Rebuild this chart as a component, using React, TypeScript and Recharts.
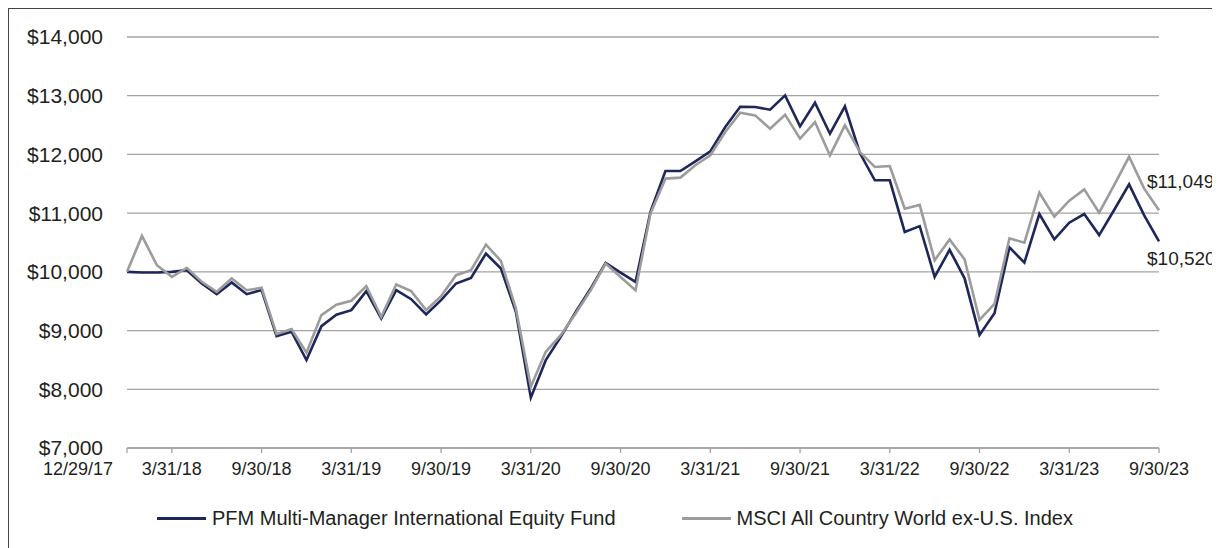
import { LineChart, Line, XAxis, YAxis, CartesianGrid, Legend, LabelList } from "recharts"

const DATES = [
  "12/29/17",
  "1/31/18", "2/28/18", "3/31/18", "4/30/18", "5/31/18", "6/30/18", "7/31/18", "8/31/18", "9/30/18", "10/31/18", "11/30/18", "12/31/18",
  "1/31/19", "2/28/19", "3/31/19", "4/30/19", "5/31/19", "6/30/19", "7/31/19", "8/31/19", "9/30/19", "10/31/19", "11/30/19", "12/31/19",
  "1/31/20", "2/29/20", "3/31/20", "4/30/20", "5/31/20", "6/30/20", "7/31/20", "8/31/20", "9/30/20", "10/31/20", "11/30/20", "12/31/20",
  "1/31/21", "2/28/21", "3/31/21", "4/30/21", "5/31/21", "6/30/21", "7/31/21", "8/31/21", "9/30/21", "10/31/21", "11/30/21", "12/31/21",
  "1/31/22", "2/28/22", "3/31/22", "4/30/22", "5/31/22", "6/30/22", "7/31/22", "8/31/22", "9/30/22", "10/31/22", "11/30/22", "12/31/22",
  "1/31/23", "2/28/23", "3/31/23", "4/30/23", "5/31/23", "6/30/23", "7/31/23", "8/31/23", "9/30/23",
]

const FUND = [
  10000,
  9990, 9990, 10000, 10028, 9800, 9620, 9820, 9620, 9690, 8906, 8980, 8498,
  9076, 9270, 9348, 9671, 9207, 9688, 9535, 9275, 9518, 9802, 9898, 10312,
  10057, 9320, 7858, 8496, 8893, 9319, 9716, 10153, 9988, 9829, 11020, 11718,
  11718, 11883, 12053, 12467, 12812, 12807, 12762, 13006, 12478, 12881, 12353, 12818,
  12024, 11559, 11559, 10680, 10779, 9915, 10375, 9890, 8926, 9294, 10417, 10157,
  10985, 10554, 10837, 10985, 10627, 11053, 11490, 10968, 10520,
]

const INDEX = [
  10000,
  10612, 10113, 9915, 10068, 9830, 9660, 9887, 9688, 9728, 8940, 9025, 8623,
  9263, 9440, 9507, 9756, 9235, 9785, 9671, 9348, 9586, 9943, 10028, 10465,
  10187, 9377, 8045, 8638, 8922, 9290, 9687, 10141, 9914, 9687, 10992, 11588,
  11605, 11815, 11985, 12382, 12712, 12665, 12438, 12677, 12268, 12552, 11983, 12495,
  12040, 11786, 11803, 11074, 11140, 10198, 10552, 10213, 9181, 9453, 10571, 10497,
  11348, 10939, 11212, 11404, 11007, 11478, 11960, 11421, 11049,
]

const TICK_DATES = [
  "12/29/17", "3/31/18", "9/30/18", "3/31/19", "9/30/19", "3/31/20", "9/30/20",
  "3/31/21", "9/30/21", "3/31/22", "9/30/22", "3/31/23", "9/30/23",
]

const Y_TICKS = [7000, 8000, 9000, 10000, 11000, 12000, 13000, 14000]

const FUND_NAME = "PFM Multi-Manager International Equity Fund"
const INDEX_NAME = "MSCI All Country World ex-U.S. Index"
const SERIES_ORDER = ["fund", "index"]

const data = DATES.map((date, i) => ({ date, fund: FUND[i], index: INDEX[i] }))

const NAVY = "#1d275a"
const GRAY = "#9c9c9c"
const GRID = "#a3a3a3"
const TEXT = "#231f20"
const FONT = "'Liberation Sans', Arial, Helvetica, sans-serif"

const money = (v: number) => `$${v.toLocaleString("en-US")}`

function XTick(props: any) {
  const { x, y, payload } = props
  const first = payload.value === DATES[0]
  return (
    <text
      x={first ? x - 14 : x}
      y={y}
      dy={20}
      textAnchor={first ? "end" : "middle"}
      fill={TEXT}
      fontSize={18}
      fontFamily={FONT}
    >
      {payload.value}
    </text>
  )
}

// value label next to the last point only
const endLabel = (dy: number) => (props: any) => {
  const { x, y, value, index } = props
  if (index !== DATES.length - 1) return null
  return (
    <text x={x - 12} y={y + dy} textAnchor="start" fill={TEXT} fontSize={19} fontFamily={FONT}>
      {money(value)}
    </text>
  )
}

function LegendContent(props: any) {
  const { payload = [] } = props
  const items = [...payload].sort(
    (a: any, b: any) => SERIES_ORDER.indexOf(a.dataKey) - SERIES_ORDER.indexOf(b.dataKey)
  )
  return (
    <div style={{ display: "flex", alignItems: "center", height: 30, fontFamily: FONT, fontSize: 20, color: TEXT }}>
      {items.map((p: any) => (
        <div key={p.value} style={{ display: "flex", alignItems: "center", marginRight: 66, whiteSpace: "nowrap" }}>
          <span style={{ display: "inline-block", width: 49, height: 3, background: p.color, marginRight: 6 }} />
          {p.value}
        </div>
      ))}
    </div>
  )
}

export default function App() {
  return (
    <div style={{ border: "1px solid #444", width: 1220, height: 545, background: "#fff" }}>
      <LineChart width={1210} height={530} data={data} margin={{ top: 28, right: 60, left: 0, bottom: 31 }}>
        <CartesianGrid horizontal vertical={false} stroke={GRID} strokeWidth={1.3} />
        <XAxis
          dataKey="date"
          ticks={TICK_DATES}
          interval={0}
          height={30}
          tick={<XTick />}
          tickSize={5}
          tickMargin={2}
          axisLine={{ stroke: GRID, strokeWidth: 1.3 }}
          tickLine={{ stroke: GRID, strokeWidth: 1.3 }}
        />
        <YAxis
          width={118}
          domain={[7000, 14000]}
          ticks={Y_TICKS}
          tickFormatter={money}
          axisLine={false}
          tickLine={false}
          tickSize={0}
          tickMargin={24}
          tick={{ fill: TEXT, fontSize: 21, fontFamily: FONT }}
        />
        <Legend content={<LegendContent />} wrapperStyle={{ top: 494, left: 148, width: "auto" }} />
        <Line
          dataKey="fund"
          name={FUND_NAME}
          stroke={NAVY}
          strokeWidth={2.6}
          dot={false}
          isAnimationActive={false}
        >
          <LabelList dataKey="fund" content={endLabel(24)} />
        </Line>
        <Line
          dataKey="index"
          name={INDEX_NAME}
          stroke={GRAY}
          strokeWidth={2.6}
          dot={false}
          isAnimationActive={false}
        >
          <LabelList dataKey="index" content={endLabel(-22)} />
        </Line>
      </LineChart>
    </div>
  )
}
